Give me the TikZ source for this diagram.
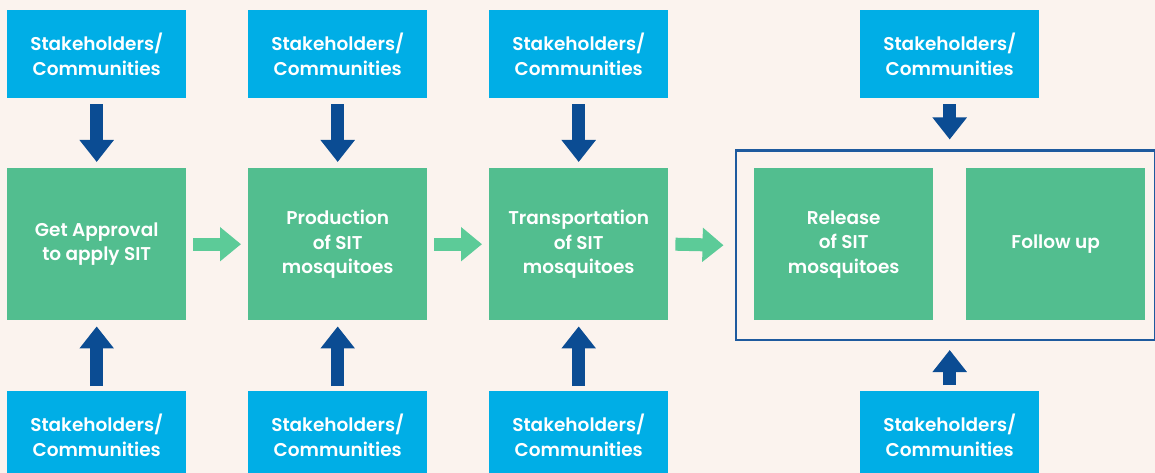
\documentclass[tikz,border=0pt]{standalone}
\usepackage{fontspec}
\setmainfont{Poppins}[BoldFont={Poppins SemiBold}]
\usetikzlibrary{arrows.meta,calc}
\definecolor{bg}{HTML}{FBF3EE}
\definecolor{sky}{HTML}{00AEE6}
\definecolor{leaf}{HTML}{52BE8F}
\definecolor{leafarrow}{HTML}{5CCB98}
\definecolor{navy}{HTML}{0B4C93}
\definecolor{framecol}{HTML}{1E5A9E}
\begin{document}
\begin{tikzpicture}[x=1pt,y=-1pt,
  base/.style={inner sep=0pt, align=center, text=white,
    font=\fontsize{18.5}{24.5}\selectfont\bfseries, anchor=north west},
  stake/.style={base, fill=sky, minimum width=179pt, minimum height=88pt},
  stage/.style={base, fill=leaf, minimum width=179pt, minimum height=152pt},
  vlink/.style={navy, line width=13pt, -{Triangle[width=33pt,length=22pt]}},
  hlink/.style={leafarrow, line width=13pt, -{Triangle[width=33pt,length=21pt]}},
]
% canvas
\fill[bg] (0,0) rectangle (1155,473);
\useasboundingbox (0,0) rectangle (1155,473);
\clip (0,0) rectangle (1155,473);

% stakeholder boxes, top row
\node[stake] (t1) at (7,10)   {Stakeholders/\\Communities};
\node[stake] (t2) at (248,10) {Stakeholders/\\Communities};
\node[stake] (t3) at (489,10) {Stakeholders/\\Communities};
\node[stake] (t4) at (860,10) {Stakeholders/\\Communities};

% stakeholder boxes, bottom row
\node[stake] (b1) at (7,391)   {Stakeholders/\\Communities};
\node[stake] (b2) at (248,391) {Stakeholders/\\Communities};
\node[stake] (b3) at (489,391) {Stakeholders/\\Communities};
\node[stake] (b4) at (860,391) {Stakeholders/\\Communities};

% process stages
\node[stage] (g1) at (7,168)   {Get Approval\\to apply SIT};
\node[stage] (g2) at (248,168) {Production\\of SIT\\mosquitoes};
\node[stage] (g3) at (489,168) {Transportation\\of SIT\\mosquitoes};
\node[stage] (g4) at (754,168) {Release\\of SIT\\mosquitoes};
\node[stage] (g5) at (966,168) {Follow up};

% frame around release and follow-up
\node[draw=framecol, line width=2.5pt, inner sep=0pt, anchor=north west,
      minimum width=419pt, minimum height=189pt] (grp) at (734.5,149.5) {};

% stakeholder input arrows
\foreach \i in {1,2,3}{
  \draw[vlink] ($(t\i.south)+(0,6)$) -- ($(g\i.north)+(0,-6)$);
  \draw[vlink] ($(b\i.north)+(0,-5)$) -- ($(g\i.south)+(0,6)$);
}
\draw[vlink] ($(t4.south)+(0,6)$) -- ($(t4.south |- grp.north)+(0,-10)$);
\draw[vlink] ($(b4.north)+(0,-6)$) -- ($(b4.north |- grp.south)+(0,9)$);

% process flow arrows
\draw[hlink] ($(g1.east)+(7,0)$) -- ($(g2.west)+(-7,0)$);
\draw[hlink] ($(g2.east)+(7,0)$) -- ($(g3.west)+(-7,0)$);
\draw[hlink] ($(g3.east)+(7,0)$) -- ($(grp.west)+(-11,0)$);
\end{tikzpicture}
\end{document}
